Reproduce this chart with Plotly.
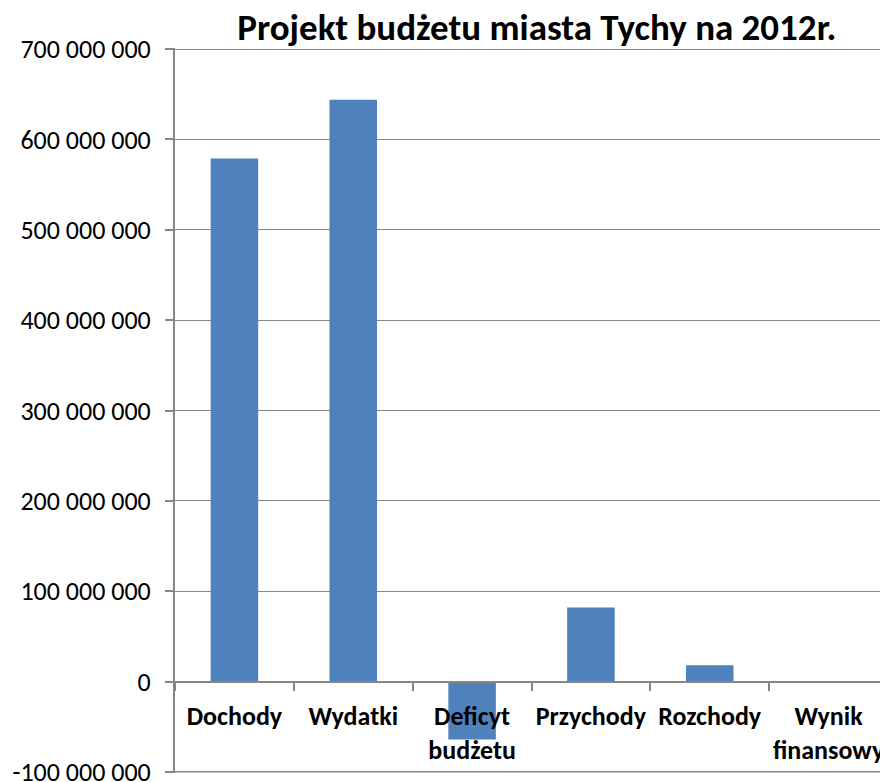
import plotly.graph_objects as go

categories = ["Dochody", "Wydatki", "Deficyt<br>budżetu", "Przychody", "Rozchody", "Wynik<br>finansowy"]
values = [579_000_000, 644_000_000, -64_000_000, 82_000_000, 18_000_000, 0]
y_tickvals = [-100_000_000, 0, 100_000_000, 200_000_000, 300_000_000, 400_000_000, 500_000_000, 600_000_000, 700_000_000]
y_ticktext = ["-100 000 000", "0", "100 000 000", "200 000 000", "300 000 000", "400 000 000", "500 000 000", "600 000 000", "700 000 000"]
title = "Projekt budżetu miasta Tychy na 2012r."

y_min, y_max = -100_000_000, 700_000_000
pad = (y_max - y_min) * 0.0015
font_family = "Carlito, Lato, sans-serif"
grid = "#868686"

fig = go.Figure(go.Bar(x=categories, y=values, marker_color="#4F81BD", marker_line_width=0))

# page has an 8px body margin: figure is offset by (8, 8)
fig.update_layout(
    width=880, height=774,
    margin=dict(l=167, r=0, t=40, b=9, autoexpand=False),
    paper_bgcolor="white", plot_bgcolor="white",
    bargap=0.6,
    showlegend=False,
    font=dict(family=font_family, color="black"),
    title=dict(text="<b>" + title + "</b>", x=0.601, xanchor="center", y=0.976, yanchor="middle",
               font=dict(size=37, family=font_family, color="black")),
)
fig.update_yaxes(
    range=[y_min - pad, y_max + pad], tickvals=y_tickvals, ticktext=y_ticktext,
    showgrid=True, gridcolor=grid, gridwidth=1.3, zeroline=False,
    showline=True, linecolor=grid, linewidth=2,
    ticks="outside", ticklen=8, tickcolor=grid, tickwidth=1.5,
    tickfont=dict(size=26, family=font_family, color="black"),
    ticklabelstandoff=9, ticklabeloverflow="allow",
    automargin=False,
)
fig.update_xaxes(
    anchor="free", position=(0 - (y_min - pad)) / (y_max - y_min + 2 * pad),
    showline=True, linecolor=grid, linewidth=2,
    ticks="outside", tickson="boundaries", ticklen=8, tickcolor=grid, tickwidth=1.5,
    showgrid=False, tickangle=0,
    tickfont=dict(size=26, family=font_family, color="black"),
    ticklabelstandoff=11, ticklabeloverflow="allow",
    automargin=False,
)
fig.update_xaxes(ticktext=["<b>" + c + "</b>" for c in categories], tickvals=categories)
# bottom gridline at the lower end of the value range
fig.add_shape(type="line", xref="paper", yref="y", x0=0, x1=1, y0=y_min, y1=y_min,
              line=dict(color=grid, width=1.3), layer="below")

fig.write_html("out.html")
